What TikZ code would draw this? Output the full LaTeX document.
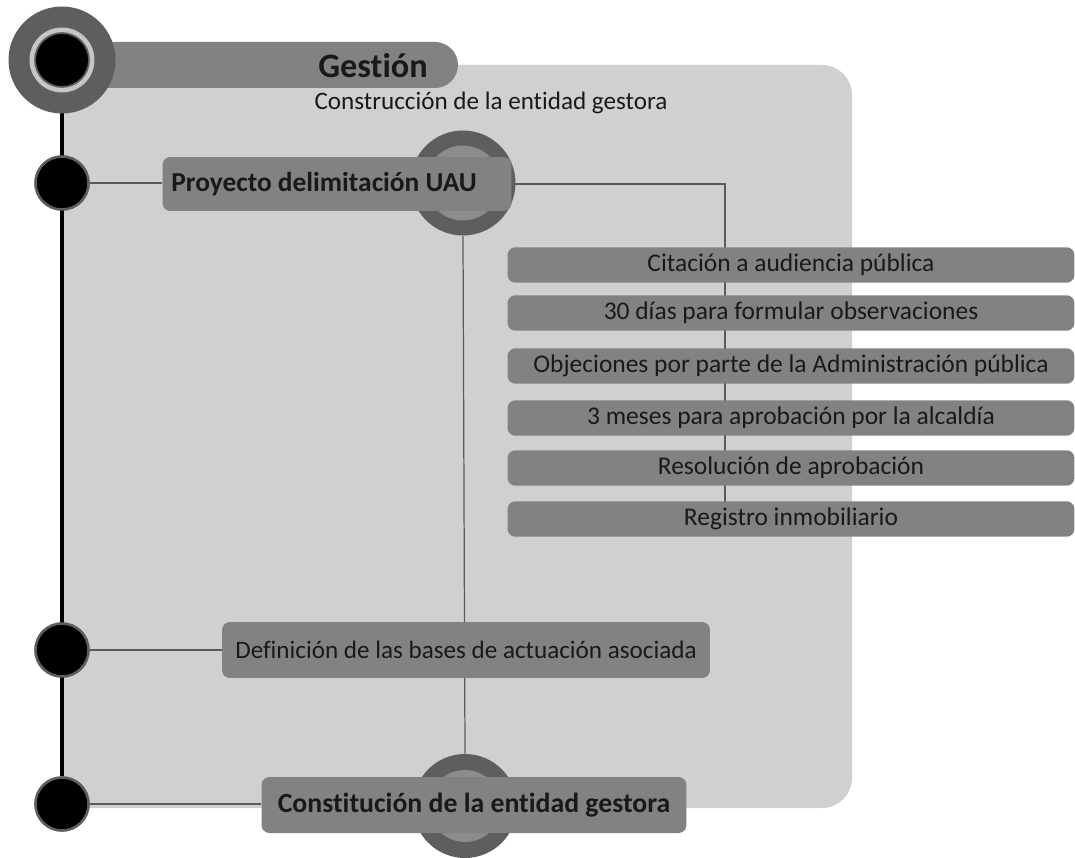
\documentclass[tikz,border=0pt]{standalone}
\usepackage{fontspec}
\setmainfont{Carlito}[RawFeature={-liga;-calt;-clig;-dlig}]
\usetikzlibrary{positioning,calc}
\definecolor{PanelG}{HTML}{D0D0D0}
\definecolor{BoxG}{HTML}{828282}
\definecolor{RingG}{HTML}{5E5E5E}
\definecolor{RingL}{HTML}{8C8C8C}
\definecolor{HaloG}{HTML}{C6C6C6}
\definecolor{LineG}{HTML}{5A5A5A}

\begin{document}
\begin{tikzpicture}[x=0.02cm,y=-0.02cm,
  box/.style={fill=BoxG, rounded corners=4.5pt, inner sep=0pt, text=black!90, font=\fontsize{14.3}{16}\selectfont},
  stepbox/.style={box, minimum width=11.34cm, minimum height=0.71cm, font=\fontsize{14.5}{16}\selectfont},
  dot/.style={circle, fill=black, draw=RingG, line width=1.4pt, minimum size=1.06cm, inner sep=0pt},
  link/.style={draw=LineG, line width=0.7pt}]
  \useasboundingbox (0,0) rectangle (1075,858);
  \clip (0,0) rectangle (1075,858);

  % background panel
  \fill[PanelG, rounded corners=0.6cm] (62,65) rectangle (852,808);

  % main items
  \node[circle, fill=RingG, minimum size=2.1cm, inner sep=0pt] (ringA) at (463,183) {};
  \node[circle, fill=RingL, minimum size=1.5cm, inner sep=0pt] at (ringA) {};
  \node[circle, fill=RingG, minimum size=2.08cm, inner sep=0pt] (ringB) at (465,806) {};
  \node[circle, fill=RingL, minimum size=1.44cm, inner sep=0pt] at (ringB) {};
  \coordinate (stepend) at (725,519);
  \draw[link] (ringA.south) -- (ringB.north);

  \node[box, minimum width=6.98cm, minimum height=1.08cm, font=\fontsize{15.6}{18}\selectfont\bfseries] (proy) at (337,184) {Proyecto delimitación UAU\hspace*{0.52cm}};
  \draw[link] (proy.east) -| (stepend);

  \foreach \i/\y/\txt in {1/265/Citación a audiencia pública,
                          2/313/30 días para formular observaciones,
                          3/366/Objeciones por parte de la Administración pública,
                          4/418/3 meses para aprobación por la alcaldía,
                          5/468/Resolución de aprobación,
                          6/519/Registro inmobiliario}{
    \node[stepbox] (step\i) at (791,\y) {\txt};
  }
  \draw[link] (step1.south -| stepend) -- (step2.north -| stepend);
  \draw[link] (step2.south -| stepend) -- (step3.north -| stepend);
  \draw[link] (step3.south -| stepend) -- (step4.north -| stepend);
  \draw[link] (step4.south -| stepend) -- (step5.north -| stepend);
  \draw[link] (step5.south -| stepend) -- (step6.north -| stepend);

  \node[box, minimum width=9.76cm, minimum height=1.12cm] (defin) at (466,650) {Definición de las bases de actuación asociada};
  \node[box, minimum width=8.5cm, minimum height=1.12cm, font=\fontsize{15.8}{18}\selectfont\bfseries] (const) at (474,805) {Constitución de la entidad gestora};

  % timeline
  \coordinate (top) at (62,60);
  \node[dot] (dot1) at (62,183) {};
  \node[dot] (dot2) at (62,650) {};
  \node[dot] (dot3) at (62,804) {};
  \draw[link] (dot1) -- (proy.west |- dot1);
  \draw[link] (dot2) -- (defin.west |- dot2);
  \draw[link] (dot3) -- (const.west |- dot3);
  \draw[black, line width=2.8pt] (top) -- (dot3);
  \node[dot] at (dot1) {};
  \node[dot] at (dot2) {};
  \node[dot] at (dot3) {};

  % header
  \fill[BoxG, rounded corners=0.46cm] (40,42) rectangle (458,88);
  \node[circle, fill=RingG, minimum size=2.14cm, inner sep=0pt] (big) at (top) {};
  \node[circle, fill=HaloG, minimum size=1.3cm, inner sep=0pt] at (big) {};
  \node[dot, minimum size=1.08cm, line width=1pt] at (big) {};
  \node[font=\fontsize{19.5}{22}\selectfont\bfseries, text=black!90] (gestion) at (373,66) {Gestión};
  \node[font=\fontsize{14.3}{16}\selectfont, text=black!90] (sub) at (491,103) {Construcción de la entidad gestora};
\end{tikzpicture}
\end{document}
